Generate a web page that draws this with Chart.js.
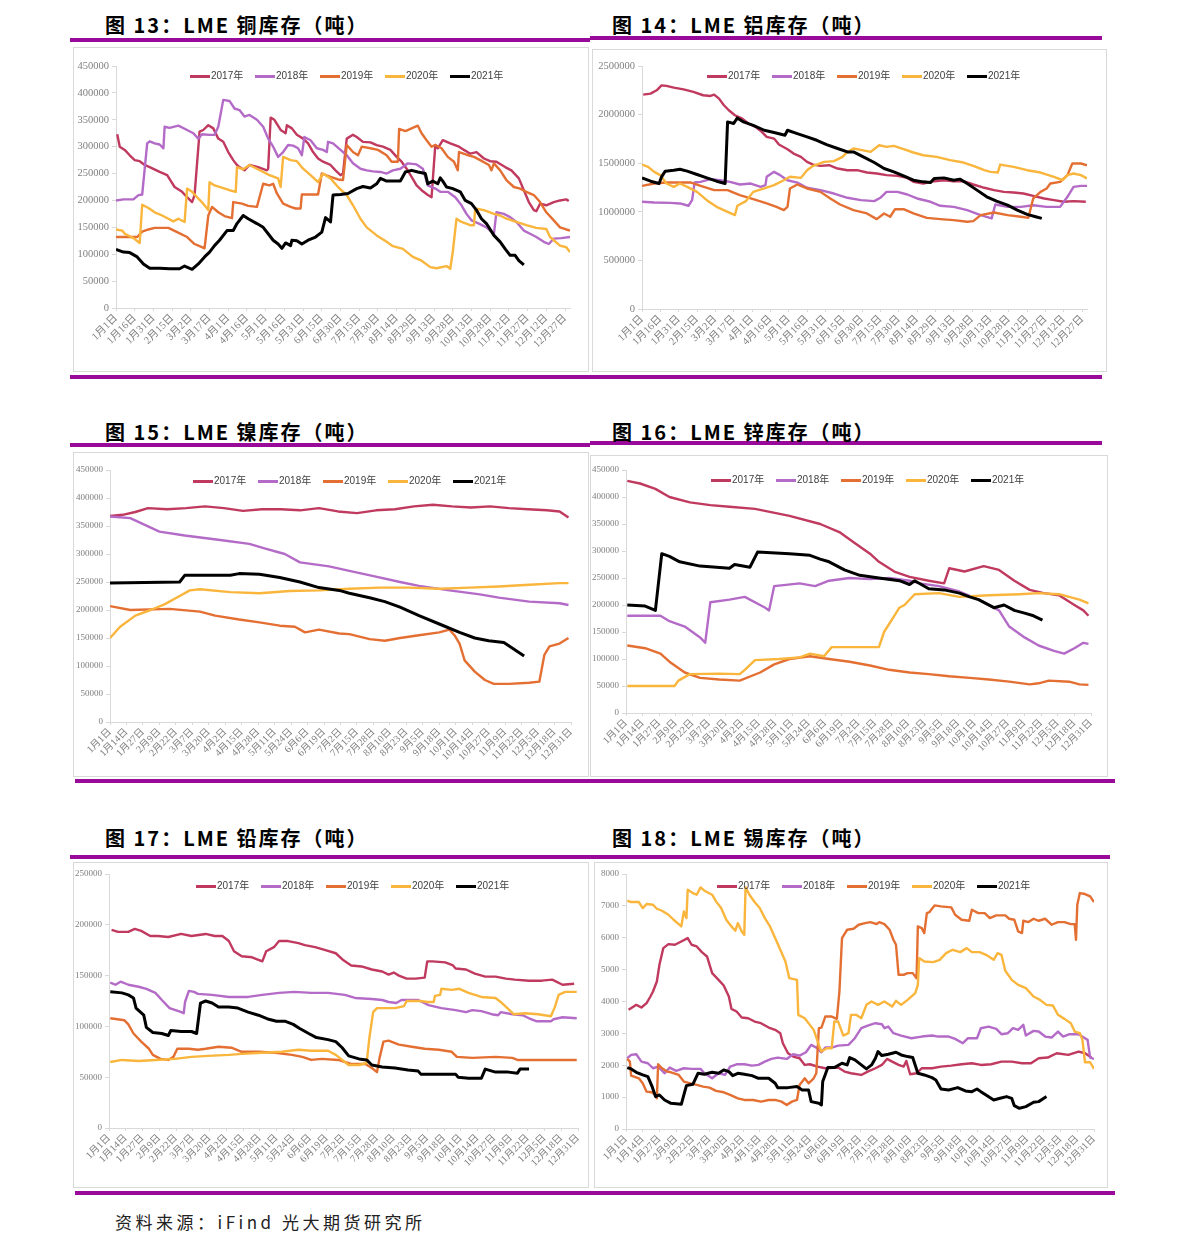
<!DOCTYPE html>
<html>
<head>
<meta charset="utf-8">
<script src="https://cdn.jsdelivr.net/npm/chart.js@4.4.1/dist/chart.umd.min.js"></script>
<style>
  html,body{margin:0;padding:0;background:#fff;}
  body{width:1191px;height:1252px;position:relative;overflow:hidden;}
  .abs{position:absolute;}
  .title{position:absolute;font-family:"Noto Sans CJK SC","DejaVu Sans",sans-serif;font-weight:bold;font-size:20px;line-height:20px;letter-spacing:2px;color:#000;white-space:nowrap;}
  .rule{position:absolute;background:#9a0a9a;}
  .box{position:absolute;border:1px solid #d9d9d9;box-sizing:border-box;}
  .leg{position:absolute;height:12px;}
  .leg .it{position:absolute;top:0;height:12px;white-space:nowrap;}
  .leg .mk{position:absolute;left:0;top:5px;width:20px;height:3px;}
  .leg .tx{position:absolute;left:21px;top:0;font-family:"Liberation Sans","Noto Sans CJK SC",sans-serif;font-size:10px;line-height:12px;color:#404040;}
  .src{position:absolute;left:115px;top:1210px;font-family:"Noto Sans CJK SC",serif;font-size:17px;line-height:24px;letter-spacing:3.5px;color:#222;white-space:nowrap;}
</style>
</head>
<body>
<script>
// ---------------- DATA ----------------
const years = ['2017年','2018年','2019年','2020年','2021年'];
const seriesColors = ['#c0395f','#b46bc7','#e46f32','#f9b53c','#000000'];

const xLabels15 = ['1月1日','1月16日','1月31日','2月15日','3月2日','3月17日','4月1日','4月16日','5月1日','5月16日','5月31日','6月15日','6月30日','7月15日','7月30日','8月14日','8月29日','9月13日','9月28日','10月13日','10月28日','11月12日','11月27日','12月12日','12月27日'];
const xLabels13 = ['1月1日','1月14日','1月27日','2月9日','2月22日','3月7日','3月20日','4月2日','4月15日','4月28日','5月11日','5月24日','6月6日','6月19日','7月2日','7月15日','7月28日','8月10日','8月23日','9月5日','9月18日','10月1日','10月14日','10月27日','11月9日','11月22日','12月5日','12月18日','12月31日'];

// Each series: [day of year (0 = 1月1日), inventory]
// Copper (thousand tonnes)
const cu2017 = [[1,323],[3,300],[7,294],[11,284],[15,275],[19,273],[23,266],[27,262],[35,253],[41,247],[47,225],[53,216],[57,206],[61,197],[63,210],[67,328],[70,331],[74,340],[78,334],[82,315],[86,309],[90,290],[94,275],[97,266],[99,262],[103,256],[107,266],[114,262],[121,256],[122,259],[124,354],[127,350],[132,331],[136,325],[137,340],[141,334],[145,322],[150,315],[154,306],[158,290],[162,278],[166,272],[172,266],[176,256],[180,247],[182,250],[185,315],[190,322],[193,318],[198,309],[204,308],[209,303],[214,300],[220,294],[225,281],[229,272],[233,259],[237,244],[241,228],[245,219],[250,210],[253,206],[256,303],[258,297],[262,312],[268,306],[275,300],[279,294],[284,287],[289,290],[295,278],[300,273],[305,272],[312,262],[317,256],[323,241],[327,219],[331,197],[335,182],[337,180],[340,194],[345,191],[351,197],[356,200],[361,202],[363,199]];
const cu2018 = [[0,200],[6,202],[14,202],[18,210],[21,211],[25,306],[27,310],[31,306],[35,304],[38,297],[39,337],[43,335],[50,339],[57,331],[62,325],[66,315],[69,323],[75,322],[79,322],[82,337],[86,387],[91,385],[95,371],[99,368],[103,356],[107,359],[113,350],[118,337],[122,315],[126,300],[130,281],[134,290],[138,303],[142,302],[146,297],[149,284],[151,318],[156,312],[161,297],[166,294],[169,290],[170,309],[174,306],[180,294],[185,284],[190,269],[196,259],[201,256],[206,254],[212,253],[217,250],[222,256],[228,259],[234,269],[241,267],[246,259],[250,228],[256,222],[260,216],[266,216],[272,206],[277,191],[281,175],[285,163],[291,157],[297,150],[303,138],[305,178],[311,175],[316,169],[321,160],[327,144],[332,138],[337,132],[343,123],[347,119],[351,129],[357,130],[364,132]];
const cu2019 = [[0,132],[9,132],[17,132],[21,142],[26,146],[31,149],[42,149],[49,141],[57,132],[63,119],[67,115],[71,111],[74,172],[77,188],[82,178],[87,171],[93,167],[94,197],[101,194],[106,190],[113,188],[118,231],[123,228],[126,231],[129,213],[134,194],[140,188],[144,185],[148,185],[149,211],[162,211],[165,250],[172,244],[178,239],[182,238],[185,303],[190,290],[194,284],[197,300],[204,297],[210,294],[217,284],[221,272],[226,272],[227,333],[232,329],[237,334],[242,339],[245,325],[249,312],[253,300],[256,303],[261,297],[266,281],[271,272],[274,256],[275,290],[281,285],[287,281],[292,275],[299,266],[301,256],[303,269],[308,256],[313,238],[319,225],[324,222],[329,216],[335,210],[340,197],[345,178],[351,163],[356,150],[361,146],[364,144]];
const cu2020 = [[0,146],[5,144],[7,138],[14,130],[19,121],[21,192],[26,186],[31,178],[37,172],[42,166],[46,161],[50,166],[55,160],[57,222],[61,216],[65,206],[70,194],[74,182],[75,234],[79,228],[86,223],[91,219],[96,216],[97,262],[102,258],[107,266],[113,259],[118,253],[123,247],[130,241],[132,225],[134,281],[140,275],[145,273],[150,259],[156,247],[162,234],[166,250],[172,241],[178,225],[185,210],[190,191],[196,166],[201,150],[209,135],[217,123],[222,115],[230,110],[238,95],[245,88],[252,76],[257,74],[265,78],[268,73],[270,104],[273,166],[277,160],[284,154],[287,154],[288,185],[295,182],[303,175],[308,172],[313,166],[321,160],[329,154],[337,149],[345,147],[348,132],[356,116],[361,113],[364,104]];
const cu2021 = [[0,109],[6,104],[11,103],[17,95],[22,82],[27,74],[35,74],[43,73],[51,73],[55,78],[61,72],[66,82],[71,95],[75,104],[79,116],[83,126],[89,144],[94,144],[97,157],[102,172],[106,166],[113,157],[118,150],[122,138],[126,126],[130,119],[133,111],[136,121],[140,116],[141,126],[145,125],[149,119],[154,126],[160,132],[165,141],[168,168],[172,160],[174,210],[180,211],[186,213],[193,222],[198,226],[204,223],[209,231],[212,241],[217,236],[228,236],[232,253],[237,256],[242,253],[248,250],[250,231],[254,236],[258,231],[260,242],[262,236],[265,225],[270,222],[276,216],[280,200],[285,194],[289,182],[293,166],[297,157],[303,135],[308,123],[312,110],[316,98],[320,98],[323,88],[327,80]];

// Aluminium (thousand tonnes)
const al2017 = [[1,2205],[7,2216],[12,2250],[16,2301],[20,2295],[26,2277],[34,2260],[42,2233],[50,2199],[56,2192],[59,2205],[63,2164],[67,2096],[71,2045],[76,1993],[82,1959],[87,1908],[93,1873],[98,1822],[102,1771],[108,1753],[112,1692],[119,1644],[124,1599],[130,1565],[135,1514],[140,1486],[146,1473],[153,1479],[160,1445],[168,1428],[176,1428],[184,1404],[192,1394],[200,1377],[209,1370],[217,1349],[222,1308],[230,1291],[239,1315],[247,1325],[255,1315],[263,1315],[271,1281],[280,1247],[288,1223],[296,1205],[304,1199],[312,1188],[320,1164],[329,1137],[337,1120],[345,1103],[353,1110],[363,1103]];
const al2018 = [[0,1103],[10,1096],[23,1092],[31,1086],[38,1062],[41,1120],[43,1301],[48,1308],[56,1336],[64,1325],[72,1308],[80,1281],[89,1291],[97,1257],[101,1274],[102,1360],[108,1411],[113,1377],[119,1325],[127,1301],[135,1247],[146,1223],[157,1188],[168,1144],[179,1120],[190,1110],[195,1144],[200,1205],[209,1205],[217,1178],[225,1137],[236,1103],[244,1062],[255,1051],[266,1017],[277,966],[286,932],[289,1075],[299,1051],[310,1051],[320,1068],[331,1051],[342,1051],[348,1154],[353,1257],[359,1267],[364,1267]];
const al2019 = [[0,1267],[10,1291],[20,1301],[31,1301],[40,1301],[48,1267],[59,1223],[70,1223],[80,1171],[91,1130],[102,1086],[110,1051],[116,1017],[119,1051],[121,1240],[127,1281],[135,1240],[146,1205],[154,1137],[162,1075],[173,1017],[184,983],[192,925],[198,983],[203,949],[207,1027],[214,1027],[222,983],[233,938],[244,925],[255,914],[266,897],[271,904],[277,966],[288,993],[299,966],[310,949],[316,938],[320,1137],[326,1205],[331,1240],[334,1291],[342,1308],[348,1377],[352,1497],[359,1497],[364,1479]];
const al2020 = [[0,1486],[5,1462],[10,1411],[15,1377],[20,1291],[26,1257],[31,1291],[37,1257],[45,1205],[53,1120],[61,1051],[70,1000],[76,966],[78,1062],[85,1110],[91,1205],[100,1240],[108,1274],[116,1325],[121,1360],[130,1349],[135,1428],[140,1473],[149,1514],[157,1521],[164,1565],[168,1616],[173,1651],[180,1634],[187,1616],[194,1685],[200,1668],[206,1678],[214,1644],[222,1610],[230,1582],[241,1565],[252,1531],[263,1507],[271,1473],[280,1428],[285,1411],[291,1404],[293,1486],[304,1462],[315,1428],[326,1404],[337,1360],[344,1325],[348,1377],[353,1394],[359,1377],[364,1343]];
const al2021 = [[0,1349],[7,1315],[14,1291],[16,1360],[19,1418],[26,1428],[31,1438],[37,1418],[45,1384],[53,1349],[61,1315],[68,1291],[70,1925],[75,1908],[78,1966],[83,1925],[91,1890],[100,1839],[108,1815],[117,1788],[119,1839],[127,1805],[135,1771],[143,1736],[151,1692],[160,1651],[168,1616],[173,1616],[181,1565],[190,1507],[198,1445],[206,1411],[214,1370],[222,1325],[230,1308],[236,1301],[239,1343],[247,1349],[255,1325],[260,1336],[266,1291],[274,1223],[282,1154],[290,1110],[299,1068],[307,1017],[315,973],[322,949],[327,932]];

// Nickel (thousand tonnes)
const ni2017 = [[0,368],[10,370],[20,375],[30,382],[45,380],[60,382],[75,385],[90,382],[105,377],[120,380],[135,380],[150,378],[165,382],[180,376],[195,373],[210,378],[225,380],[240,385],[255,388],[270,385],[285,383],[300,385],[315,382],[330,380],[345,378],[355,376],[362,365]];
const ni2018 = [[0,367],[16,364],[39,340],[59,333],[87,325],[110,318],[122,310],[138,300],[150,285],[173,278],[189,270],[209,260],[229,250],[244,243],[268,235],[292,228],[307,222],[331,215],[355,212],[362,209]];
const ni2019 = [[0,207],[16,200],[47,202],[71,197],[83,190],[102,183],[118,178],[134,172],[146,170],[154,160],[165,165],[181,158],[189,157],[205,148],[217,145],[229,150],[244,155],[260,160],[268,165],[272,155],[276,140],[280,110],[288,90],[296,75],[303,68],[315,68],[331,70],[339,72],[343,120],[347,135],[355,140],[362,150]];
const ni2020 = [[0,150],[8,170],[20,190],[32,200],[43,210],[55,225],[63,235],[71,237],[95,232],[118,230],[142,234],[165,235],[189,238],[213,240],[236,240],[260,238],[284,240],[307,242],[331,245],[355,248],[362,248]];
const ni2021 = [[0,248],[55,250],[59,262],[95,262],[102,265],[118,264],[134,258],[150,250],[165,240],[181,235],[189,230],[205,222],[217,215],[229,205],[244,190],[260,175],[276,160],[288,150],[299,145],[311,142],[319,130],[327,118]];

// Zinc (thousand tonnes)
const zn2017 = [[1,430],[11,425],[23,415],[34,400],[50,390],[66,385],[81,382],[101,378],[128,365],[152,350],[167,335],[179,315],[191,295],[198,280],[210,262],[222,252],[237,245],[249,240],[253,268],[265,262],[280,272],[292,265],[304,245],[316,228],[327,222],[339,218],[351,200],[358,190],[362,180]];
const zn2018 = [[1,180],[27,180],[34,170],[46,160],[58,140],[62,130],[66,205],[81,210],[93,215],[109,195],[112,190],[116,235],[136,240],[148,235],[159,245],[175,250],[191,248],[206,250],[222,245],[230,240],[245,235],[261,225],[276,210],[292,190],[300,160],[312,140],[323,125],[335,115],[343,110],[351,120],[358,130],[362,128]];
const zn2019 = [[1,125],[15,120],[27,110],[34,95],[46,75],[58,65],[73,62],[89,60],[105,75],[116,90],[128,100],[144,105],[159,100],[175,95],[191,88],[206,80],[222,75],[237,72],[253,68],[269,65],[284,62],[300,58],[316,53],[323,55],[331,60],[347,58],[355,53],[362,52]];
const zn2020 = [[1,50],[38,50],[41,60],[50,72],[73,73],[89,72],[93,80],[101,98],[120,100],[136,103],[144,110],[155,105],[161,122],[198,122],[202,150],[210,180],[214,195],[218,200],[226,220],[245,222],[261,215],[284,218],[308,220],[323,222],[339,220],[355,210],[362,203]];
const zn2021 = [[1,200],[15,198],[23,190],[28,295],[34,290],[42,280],[58,272],[81,268],[85,275],[97,270],[103,298],[128,295],[144,292],[152,285],[159,280],[171,265],[183,255],[198,250],[214,245],[222,238],[226,245],[237,230],[249,228],[261,222],[269,215],[276,210],[288,195],[296,200],[304,190],[312,185],[319,180],[326,172]];

// Lead (thousand tonnes)
const pb2017 = [[2,195],[7,193],[15,193],[20,196],[25,194],[32,189],[38,189],[46,188],[56,191],[64,189],[75,191],[82,189],[88,189],[93,184],[97,174],[103,169],[111,168],[119,164],[122,174],[128,178],[132,184],[139,184],[147,182],[152,180],[160,178],[168,175],[176,172],[182,165],[188,160],[196,159],[204,156],[212,154],[217,151],[221,153],[225,150],[231,147],[238,147],[245,148],[247,164],[251,164],[261,163],[267,160],[269,157],[277,156],[284,152],[292,149],[300,149],[308,147],[315,146],[326,145],[336,145],[344,146],[352,141],[361,142]];
const pb2018 = [[1,143],[5,141],[9,144],[15,141],[23,139],[29,137],[36,133],[41,126],[47,118],[54,115],[58,113],[59,124],[62,135],[66,134],[69,132],[80,131],[93,129],[108,129],[119,131],[132,133],[144,134],[157,133],[170,133],[183,131],[191,128],[204,127],[212,126],[217,124],[223,123],[227,126],[240,126],[248,121],[258,118],[269,116],[277,114],[282,116],[289,115],[297,112],[302,111],[304,114],[313,112],[321,111],[326,108],[332,105],[343,105],[345,107],[352,109],[363,108]];
const pb2019 = [[1,108],[12,106],[15,102],[19,93],[25,85],[31,78],[34,72],[40,68],[46,67],[50,70],[53,78],[62,78],[69,77],[75,78],[85,80],[95,79],[103,75],[116,75],[129,74],[142,72],[150,70],[157,67],[165,68],[178,67],[188,63],[199,63],[204,59],[208,55],[210,69],[213,85],[217,86],[225,82],[235,80],[245,78],[256,77],[266,75],[270,70],[282,69],[300,70],[313,69],[317,67],[339,67],[363,67]];
const pb2020 = [[1,65],[10,67],[23,66],[36,67],[51,68],[64,70],[77,71],[93,72],[103,73],[119,74],[134,75],[147,77],[157,76],[170,76],[176,72],[181,67],[186,62],[194,62],[200,64],[202,88],[205,114],[208,118],[214,118],[222,118],[229,120],[231,125],[242,125],[247,124],[252,124],[253,130],[257,131],[258,137],[266,136],[272,137],[279,133],[289,129],[300,128],[305,123],[310,117],[314,112],[323,113],[333,112],[343,110],[346,119],[349,131],[354,134],[363,134]];
const pb2021 = [[1,134],[10,133],[15,131],[19,128],[21,118],[27,111],[29,99],[34,94],[41,93],[46,91],[48,96],[56,95],[64,95],[68,93],[71,123],[75,125],[80,123],[85,119],[93,119],[100,118],[108,114],[116,111],[124,107],[130,105],[137,105],[143,102],[148,98],[155,93],[161,89],[170,87],[176,85],[181,79],[186,71],[194,68],[200,67],[204,62],[212,60],[222,59],[232,57],[240,56],[242,53],[253,53],[269,53],[271,50],[279,49],[289,49],[292,58],[300,55],[310,55],[317,54],[319,58],[326,58]];

// Tin (tonnes)
const sn2017 = [[2,3738],[6,3843],[8,3895],[12,3811],[16,3947],[19,4157],[21,4314],[24,4628],[26,5151],[29,5675],[33,5800],[38,5780],[43,5884],[48,5989],[51,5780],[55,5727],[59,5549],[63,5413],[67,4890],[72,4680],[76,4502],[80,4157],[82,3769],[86,3685],[90,3497],[95,3476],[100,3371],[105,3319],[111,3183],[116,3110],[120,3005],[122,2691],[126,2377],[130,2272],[135,2220],[139,2010],[143,2031],[149,1958],[155,1906],[165,1927],[170,1801],[175,1748],[183,1696],[188,1801],[194,1906],[199,2010],[203,2199],[207,2115],[212,2010],[216,1958],[218,2136],[221,1717],[226,1748],[230,1906],[238,1906],[245,1958],[253,1989],[261,2031],[269,2063],[276,2010],[284,2031],[292,2115],[300,2115],[308,2063],[315,2063],[321,2220],[328,2241],[335,2377],[344,2324],[352,2429],[357,2377],[362,2241]];
const sn2018 = [[1,2220],[4,2324],[8,2345],[12,2115],[17,2063],[21,1906],[25,1958],[30,1748],[34,1927],[39,1822],[45,1906],[51,1885],[58,1885],[61,1748],[67,1591],[72,1748],[77,1696],[81,1958],[86,2031],[92,2031],[98,1989],[103,2010],[108,2115],[113,2199],[118,2241],[125,2199],[130,2345],[135,2303],[140,2408],[144,2638],[148,2555],[152,2408],[155,2555],[160,2555],[165,2617],[173,2638],[178,2848],[183,3162],[188,3246],[194,3319],[199,3288],[201,3162],[204,3214],[208,3005],[214,2932],[222,2848],[230,2900],[238,2932],[243,2900],[251,2900],[256,2827],[262,2691],[266,2848],[273,2848],[276,3162],[282,3214],[288,3141],[292,2974],[297,3005],[301,3162],[305,3110],[309,3267],[311,2932],[317,3079],[321,3058],[326,2900],[331,2869],[336,3058],[340,2900],[345,2974],[352,2974],[357,2848],[359,2796],[361,2241],[364,2199]];
const sn2019 = [[1,2199],[3,2115],[4,1675],[10,1591],[13,1434],[16,1172],[20,1152],[23,1068],[24,963],[25,2031],[28,1906],[32,1801],[35,1780],[41,1696],[45,1487],[50,1434],[55,1382],[60,1330],[65,1298],[70,1194],[76,1152],[81,1068],[87,963],[92,911],[99,911],[105,859],[111,911],[116,911],[121,859],[125,754],[129,859],[133,911],[135,1382],[139,1591],[142,1434],[146,1591],[148,1748],[150,3162],[152,3183],[155,3528],[160,3528],[164,3455],[166,4314],[168,5989],[172,6251],[177,6282],[181,6408],[186,6460],[190,6491],[195,6429],[197,6491],[201,6429],[205,6251],[208,5936],[210,5780],[212,4837],[216,4837],[219,4890],[223,4890],[226,4732],[227,6356],[230,6303],[232,6146],[234,6774],[236,6805],[240,7015],[245,6983],[253,6952],[256,6722],[261,6565],[267,6533],[269,6879],[274,6774],[279,6774],[283,6617],[288,6701],[295,6701],[298,6596],[302,6565],[305,6198],[308,6146],[309,6533],[313,6491],[317,6596],[321,6533],[326,6596],[331,6408],[336,6491],[341,6491],[346,6429],[349,6429],[350,5936],[351,7036],[353,7402],[357,7371],[361,7298],[364,7120]];
const sn2020 = [[1,7162],[4,7120],[10,7120],[13,6931],[16,7057],[21,7036],[24,6910],[28,6847],[33,6722],[37,6565],[41,6429],[43,6356],[45,6826],[47,6617],[48,7507],[52,7402],[55,7350],[58,7580],[61,7476],[67,7350],[70,7141],[74,6931],[78,6565],[82,6356],[85,6219],[87,6460],[90,6198],[92,6093],[93,7580],[96,7350],[100,7120],[104,6931],[108,6617],[112,6356],[116,5989],[120,5622],[124,5256],[127,4732],[133,4680],[134,3581],[139,3476],[143,3267],[146,3110],[150,2638],[152,2429],[156,2534],[160,2534],[162,3371],[165,3371],[169,2932],[173,3005],[175,3581],[179,3581],[183,3476],[187,3895],[191,4000],[196,3895],[201,4000],[207,3843],[210,4020],[214,3895],[219,4052],[225,4261],[227,4523],[228,5361],[232,5256],[239,5235],[244,5308],[249,5518],[254,5622],[260,5549],[265,5675],[269,5549],[275,5549],[280,5465],[286,5308],[289,5518],[292,5465],[295,4963],[300,4680],[305,4523],[311,4418],[317,4157],[322,4052],[327,3895],[332,3874],[336,3581],[341,3455],[346,3319],[349,3058],[353,3005],[355,2796],[357,2094],[361,2094],[364,1885]];
const sn2021 = [[1,1927],[4,1885],[8,1780],[13,1696],[17,1644],[20,1361],[23,1016],[26,1068],[30,911],[35,806],[43,775],[45,1068],[47,1361],[52,1403],[56,1748],[61,1717],[67,1780],[72,1748],[76,1853],[80,1801],[83,1675],[87,1748],[92,1717],[98,1675],[103,1591],[111,1591],[116,1434],[118,1298],[126,1298],[133,1330],[137,1225],[142,1225],[144,859],[150,806],[152,754],[153,1487],[157,1927],[162,1927],[168,2063],[172,2010],[174,2241],[178,2167],[183,2010],[187,1885],[191,2010],[194,2220],[196,2429],[199,2303],[204,2345],[210,2408],[214,2324],[219,2272],[223,2241],[227,1748],[232,1696],[238,1612],[241,1539],[245,1256],[251,1225],[258,1298],[264,1194],[269,1172],[273,1256],[276,1172],[280,1068],[286,911],[291,963],[296,1016],[300,963],[302,733],[306,649],[311,701],[317,838],[321,859],[325,963],[327,1016]];

// ---------------- LAYOUT ----------------
const panels = [
  {title:'图 13：LME 铜库存（吨）', tpos:[105,15], series:[cu2017,cu2018,cu2019,cu2020,cu2021], unit:1000, yMax:450000, yStep:50000, labels:xLabels15,
   box:[73,47,589,372], plot:[116,66,570,308], legend:[190,70], yFont:10.5, xFont:10.5},
  {title:'图 14：LME 铝库存（吨）', tpos:[612,15], series:[al2017,al2018,al2019,al2020,al2021], unit:1000, yMax:2500000, yStep:500000, labels:xLabels15,
   box:[592,49,1107,372], plot:[642,66,1087,309], legend:[707,70], yFont:10.5, xFont:10.5},
  {title:'图 15：LME 镍库存（吨）', tpos:[105,422], series:[ni2017,ni2018,ni2019,ni2020,ni2021], unit:1000, yMax:450000, yStep:50000, labels:xLabels13,
   box:[73,452,589,777], plot:[110,470,571,722], legend:[193,475], yFont:9, xFont:10},
  {title:'图 16：LME 锌库存（吨）', tpos:[612,422], series:[zn2017,zn2018,zn2019,zn2020,zn2021], unit:1000, yMax:450000, yStep:50000, labels:xLabels13,
   box:[590,455,1108,777], plot:[626,470,1091,713], legend:[711,474], yFont:9, xFont:10},
  {title:'图 17：LME 铅库存（吨）', tpos:[105,828], series:[pb2017,pb2018,pb2019,pb2020,pb2021], unit:1000, yMax:250000, yStep:50000, labels:xLabels13,
   box:[73,862,589,1188], plot:[109,874,578,1128], legend:[196,880], yFont:9, xFont:10},
  {title:'图 18：LME 锡库存（吨）', tpos:[612,828], series:[sn2017,sn2018,sn2019,sn2020,sn2021], unit:1, yMax:8000, yStep:1000, labels:xLabels13,
   box:[594,862,1108,1188], plot:[626,874,1094,1129], legend:[717,880], yFont:9, xFont:10}
];

const rules = [
  [70,38,520,4],[590,36,512,4],[70,375,1032,4],
  [70,443,520,4],[590,441,512,4],[75,779,1040,4],
  [70,855,520,4],[590,855,520,4],[75,1191,1040,4]
];

function el(tag, cls, style, text){
  const e = document.createElement(tag);
  if (cls) e.className = cls;
  if (style) Object.assign(e.style, style);
  if (text !== undefined) e.textContent = text;
  document.body.appendChild(e);
  return e;
}
function dayOfYear(label){
  const m = label.match(/(\d+)月(\d+)日/);
  return Math.round((Date.UTC(2021, +m[1]-1, +m[2]) - Date.UTC(2021,0,1)) / 864e5);
}

rules.forEach(([x,y,w,h]) => el('div','rule',{left:x+'px',top:y+'px',width:w+'px',height:h+'px'}));

const tickFontFamily = '"Liberation Serif","Noto Sans CJK SC",serif';

panels.forEach(p => {
  const [bl,bt,br,bb] = p.box;
  const [pl,pt,pr,pb] = p.plot;
  el('div','box',{left:bl+'px',top:bt+'px',width:(br-bl)+'px',height:(bb-bt)+'px'});
  el('div','title',{left:p.tpos[0]+'px',top:p.tpos[1]+'px'}, p.title);

  const wrap = el('div','abs',{left:(bl+1)+'px',top:(bt+1)+'px',width:(br-bl-2)+'px',height:(bb-bt-2)+'px'});
  const cv = document.createElement('canvas');
  cv.width = br-bl-2; cv.height = bb-bt-2;
  wrap.appendChild(cv);
  const ox = bl+1, oy = bt+1;
  const tickDays = p.labels.map(dayOfYear);

  new Chart(cv.getContext('2d'), {
    type:'line',
    data:{datasets: p.series.map((s,i) => ({
      label: years[i],
      data: s.map(([d,v]) => ({x:d, y:v*p.unit})),
      borderColor: seriesColors[i],
      backgroundColor: seriesColors[i],
      borderWidth: i === 4 ? 3 : 2.4,
      pointRadius: 0,
      tension: 0,
      fill: false,
      order: 4 - i,
      borderJoinStyle: 'round'
    }))},
    options:{
      responsive:false, animation:false, devicePixelRatio:1,
      layout:{padding:{top: pt-oy, right: (cv.width+ox) - pr, left:0, bottom:0}},
      plugins:{legend:{display:false}, tooltip:{enabled:false}},
      scales:{
        x:{
          type:'linear', min:0, max:364,
          afterBuildTicks: s => { s.ticks = tickDays.map(v => ({value:v})); },
          afterFit: s => { s.height = (cv.height+oy) - pb; },
          ticks:{autoSkip:false, minRotation:45, maxRotation:45, padding:1,
                 callback:(v,i) => p.labels[i], color:'#808080',
                 font:{family:tickFontFamily, size:p.xFont}},
          grid:{display:true, drawOnChartArea:false, drawTicks:true, tickLength:3, color:'#d9d9d9'},
          border:{display:true, color:'#d9d9d9', width:1}
        },
        y:{
          min:0, max:p.yMax,
          afterFit: s => { s.width = pl - ox; },
          ticks:{stepSize:p.yStep, padding:3, color:'#808080',
                 callback: v => String(v),
                 font:{family:tickFontFamily, size:p.yFont}},
          grid:{display:true, drawOnChartArea:false, drawTicks:true, tickLength:4, color:'#d9d9d9'},
          border:{display:true, color:'#d9d9d9', width:1}
        }
      }
    }
  });

  const leg = el('div','leg',{left:p.legend[0]+'px',top:p.legend[1]+'px',width:'330px'});
  years.forEach((y,i) => {
    const it = document.createElement('div');
    it.className = 'it';
    it.style.left = (i*65)+'px';
    const mk = document.createElement('span'); mk.className='mk'; mk.style.background = seriesColors[i];
    const tx = document.createElement('span'); tx.className='tx'; tx.textContent = y;
    it.appendChild(mk); it.appendChild(tx); leg.appendChild(it);
  });
});

el('div','src',{}, '资料来源：iFind  光大期货研究所');
</script>
</body>
</html>
